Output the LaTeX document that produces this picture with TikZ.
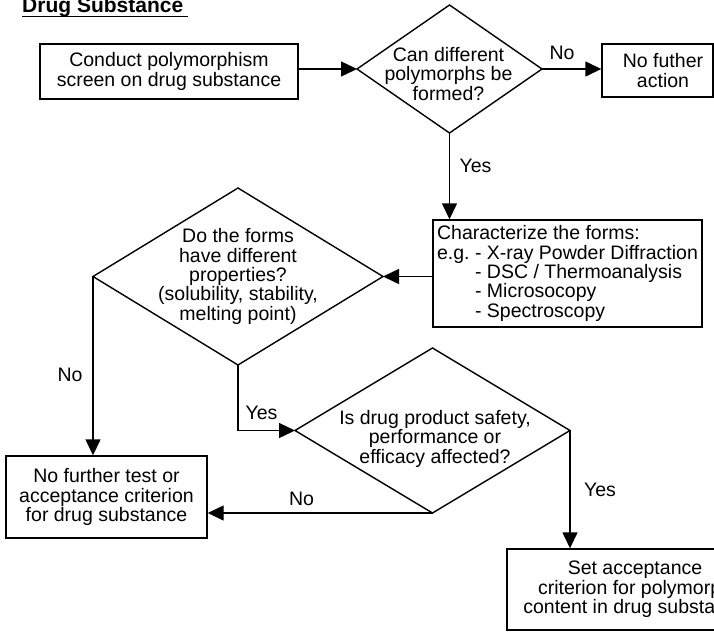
\documentclass[tikz,border=0pt]{standalone}
\usepackage{fontspec}
\setmainfont{Liberation Sans}
\usetikzlibrary{arrows.meta,shapes.geometric}
\frenchspacing
\newcommand\fs{\fontsize{19.5}{19.3}\selectfont}
\newcommand\fsb{\fontsize{21}{22}\selectfont\bfseries}
\begin{document}
\begin{tikzpicture}[x=1pt,y=-1pt,
  every node/.style={font=\fs},
  box/.style={draw, line width=1.4pt, rectangle, inner sep=0pt, align=center},
  dia/.style={draw, line width=1.4pt, diamond, inner sep=0pt, outer sep=0pt},
  txt/.style={align=center, inner sep=0pt},
  lbl/.style={inner sep=0pt},
  arr/.style={line width=1.4pt, -{Triangle[length=16pt,width=15pt]}}]
\useasboundingbox (0,0) rectangle (714,632);
\clip (0,0) rectangle (714,632);

\node[font=\fsb, anchor=base west, inner sep=0pt] (title) at (22,12) {Drug Substance};
\draw[line width=1.4pt] ([yshift=-4.5pt]title.base west) -- ([yshift=-4.5pt,xshift=5pt]title.base east);

\node[box, minimum width=258pt, minimum height=55pt] (b1) at (169,71.5) {Conduct polymorphism\\screen on drug substance};
\node[box, minimum width=111pt, minimum height=53pt] (nf) at (657.5,70.5) {\hspace*{11pt}No futher\\\hspace*{11pt}action};

\node[dia, minimum width=185pt, minimum height=128pt] (d1) at (449.5,69) {};
\node[txt, anchor=base] (d1t) at (448.5,100) {Can different\\polymorphs be\\formed?};

\node[box, align=left, inner xsep=2pt, minimum width=269pt, minimum height=107pt] (ch) at (567.5,273.5)
  {Characterize the forms:\\e.g. - X-ray Powder Diffraction\\\hspace*{38pt}- DSC / Thermoanalysis\\\hspace*{38pt}- Microsocopy\\\hspace*{38pt}- Spectroscopy};

\node[dia, minimum width=290pt, minimum height=177pt] (d2) at (238,276.5) {};
\node[txt, anchor=base] (d2t) at (238,320) {Do the forms\\have different\\properties?\\(solubility, stability,\\melting point)};

\node[box, minimum width=201pt, minimum height=82pt] (nt) at (106.5,497) {No further test or\\acceptance criterion\\for drug substance};

\node[dia, minimum width=275pt, minimum height=165pt] (d3) at (432.5,430.5) {};
\node[txt, anchor=base] (d3t) at (435,463) {Is drug product safety,\\performance or\\efficacy affected?};

\node[box, minimum width=256pt, minimum height=81pt] (sa) at (635,589.5) {Set acceptance\\criterion for polymorph\\content in drug substance};

\node[lbl] (l1) at (562,52.5) {No};
\node[lbl] (l2) at (475.5,165.5) {Yes};
\node[lbl] (l3) at (70,374.5) {No};
\node[lbl] (l4) at (261.5,412.5) {Yes};
\node[lbl] (l5) at (301.5,498.5) {No};
\node[lbl] (l6) at (600,490) {Yes};

\draw[arr] (b1.east |- d1.west) -- (d1.west);
\draw[arr] (d1.east) -- (d1.east -| nf.west);
\draw[arr] (d1.south) -- (d1.south |- ch.north);
\draw[arr] (ch.west |- d2.east) -- (d2.east);
\draw[arr] (d2.west) -- (d2.west |- nt.north);
\draw[arr] (d2.south) -- (d2.south |- d3.west) -- (d3.west);
\draw[arr] (d3.south) -- (d3.south -| nt.east);
\draw[arr] (d3.east) -- (d3.east |- sa.north);
\end{tikzpicture}
\end{document}
